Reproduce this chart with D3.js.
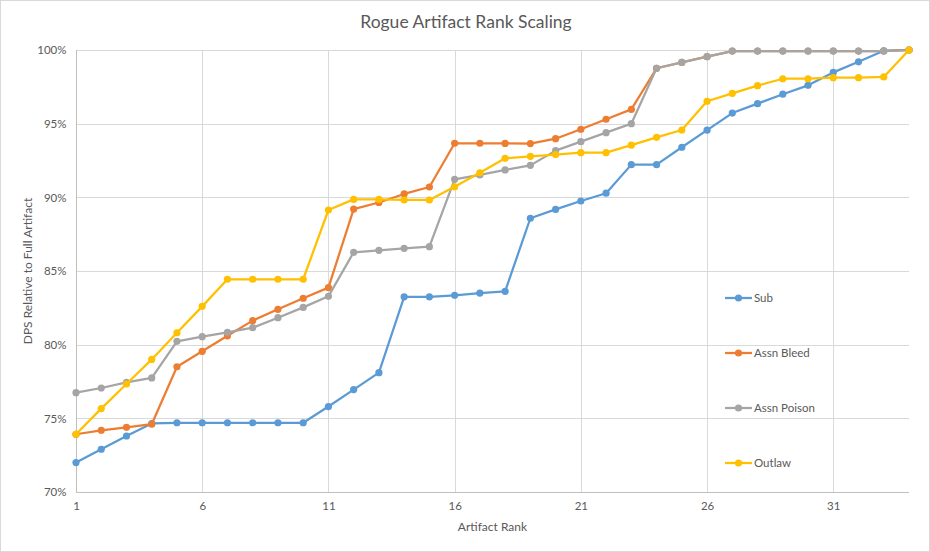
<!DOCTYPE html>
<html>
<head>
<meta charset="utf-8">
<script src="https://cdn.jsdelivr.net/npm/d3@7"></script>
<style>
  html, body { margin: 0; padding: 0; background: #fff; }
  svg { display: block; font-family: Lato, "Open Sans", sans-serif; }
</style>
</head>
<body>
<svg id="chart" width="930" height="552"></svg>
<script>
const ranks = d3.range(1, 35);
const seriesNames = ["Sub", "Assn Bleed", "Assn Poison", "Outlaw"];
const seriesColors = ["#5B9BD5", "#ED7D31", "#A5A5A5", "#FFC000"];
const sub = [72.0, 72.9, 73.8, 74.65, 74.7, 74.7, 74.7, 74.7, 74.7, 74.7, 75.8, 76.95, 78.1, 83.25, 83.25, 83.35, 83.5, 83.62, 88.58, 89.18, 89.75, 90.28, 92.22, 92.22, 93.4, 94.56, 95.72, 96.36, 97.0, 97.6, 98.48, 99.2, 99.95, 100];
const assnBleed = [73.92, 74.19, 74.39, 74.6, 78.5, 79.55, 80.6, 81.63, 82.4, 83.15, 83.87, 89.2, 89.65, 90.23, 90.7, 93.67, 93.67, 93.66, 93.65, 93.98, 94.62, 95.3, 95.97, 98.76, 99.16, 99.55, 99.93, 99.93, 99.93, 99.93, 99.93, 99.93, 99.93, 100];
const assnPoison = [76.74, 77.06, 77.44, 77.74, 80.23, 80.54, 80.84, 81.15, 81.83, 82.53, 83.28, 86.27, 86.4, 86.54, 86.65, 91.22, 91.52, 91.86, 92.17, 93.17, 93.78, 94.39, 95.0, 98.76, 99.16, 99.55, 99.93, 99.93, 99.93, 99.93, 99.93, 99.93, 99.93, 100];
const outlaw = [73.92, 75.66, 77.33, 79.0, 80.81, 82.6, 84.44, 84.44, 84.44, 84.44, 89.14, 89.86, 89.86, 89.82, 89.82, 90.72, 91.67, 92.65, 92.78, 92.9, 93.03, 93.03, 93.54, 94.07, 94.57, 96.52, 97.06, 97.58, 98.05, 98.05, 98.12, 98.12, 98.17, 100];
const xTicks = [1, 6, 11, 16, 21, 26, 31];
const yTicks = [70, 75, 80, 85, 90, 95, 100];

const allSeries = [sub, assnBleed, assnPoison, outlaw];

const svg = d3.select("#chart");
const W = 930, H = 552;
const mLeft = 76, mRight = 909, mTop = 50, mBottom = 492;

svg.append("rect").attr("x", 0.5).attr("y", 0.5).attr("width", W - 1).attr("height", H - 1)
  .attr("fill", "#fff").attr("stroke", "#D9D9D9");

const x = d3.scaleLinear().domain([1, 34]).range([mLeft, mRight]);
const y = d3.scaleLinear().domain([70, 100]).range([mBottom, mTop]);

// gridlines
const g = svg.append("g");
g.selectAll(".hg").data(yTicks.filter(v => v > 70)).join("line")
  .attr("x1", mLeft).attr("x2", mRight)
  .attr("y1", d => Math.round(y(d)) + 0.5).attr("y2", d => Math.round(y(d)) + 0.5)
  .attr("stroke", "#D9D9D9").attr("stroke-width", 1);
g.selectAll(".vg").data(xTicks.filter(v => v > 1)).join("line")
  .attr("y1", mTop).attr("y2", mBottom)
  .attr("x1", d => Math.round(x(d)) + 0.5).attr("x2", d => Math.round(x(d)) + 0.5)
  .attr("stroke", "#D9D9D9").attr("stroke-width", 1);

// axes
const xAxis = d3.axisBottom(x).tickValues(xTicks).tickSize(0).tickPadding(9).tickFormat(d3.format("d"));
const yAxis = d3.axisLeft(y).tickValues(yTicks).tickSize(0).tickPadding(10).tickFormat(d => d + "%");

const xa = svg.append("g").attr("transform", `translate(0,${Math.round(mBottom) + 0.5})`).call(xAxis);
const ya = svg.append("g").attr("transform", `translate(${mLeft + 0.5},0)`).call(yAxis);
[xa, ya].forEach(a => {
  a.select(".domain").attr("stroke", "#BFBFBF");
  a.selectAll("text").attr("fill", "#595959").attr("font-size", 11.5).attr("font-family", "Lato, sans-serif");
});
xa.select(".domain").attr("d", `M${mLeft},0H${mRight}`);
ya.select(".domain").attr("d", `M0,${mTop}V${mBottom}`);

// lines
const line = d3.line().x((d, i) => x(ranks[i])).y(d => y(d));
allSeries.forEach((s, k) => {
  const sg = svg.append("g");
  sg.append("path").datum(s).attr("d", line).attr("fill", "none")
    .attr("stroke", seriesColors[k]).attr("stroke-width", 2.25).attr("stroke-linejoin", "round");
  sg.selectAll("circle").data(s).join("circle")
    .attr("cx", (d, i) => x(ranks[i])).attr("cy", d => y(d)).attr("r", 3.6)
    .attr("fill", seriesColors[k]);
});

// legend
const legendY = [298, 353, 408, 463];
seriesNames.forEach((n, k) => {
  const lg = svg.append("g").attr("transform", `translate(725,${legendY[k]})`);
  lg.append("line").attr("x1", 0).attr("x2", 27).attr("stroke", seriesColors[k]).attr("stroke-width", 2.25);
  lg.append("circle").attr("cx", 13.5).attr("r", 3.6).attr("fill", seriesColors[k]);
  lg.append("text").attr("x", 29).attr("dy", "0.35em").attr("fill", "#595959")
    .attr("font-size", 11.5).text(n);
});

// titles
svg.append("text").attr("x", 466).attr("y", 28).attr("text-anchor", "middle")
  .attr("fill", "#595959").attr("font-size", 17.5).text("Rogue Artifact Rank Scaling");
svg.append("text").attr("x", (mLeft + mRight) / 2).attr("y", 531).attr("text-anchor", "middle")
  .attr("fill", "#595959").attr("font-size", 12).text("Artifact Rank");
svg.append("text").attr("transform", `translate(32,${(mTop + mBottom) / 2}) rotate(-90)`)
  .attr("text-anchor", "middle").attr("fill", "#595959").attr("font-size", 12)
  .text("DPS Relative to Full Artifact");
</script>
</body>
</html>
